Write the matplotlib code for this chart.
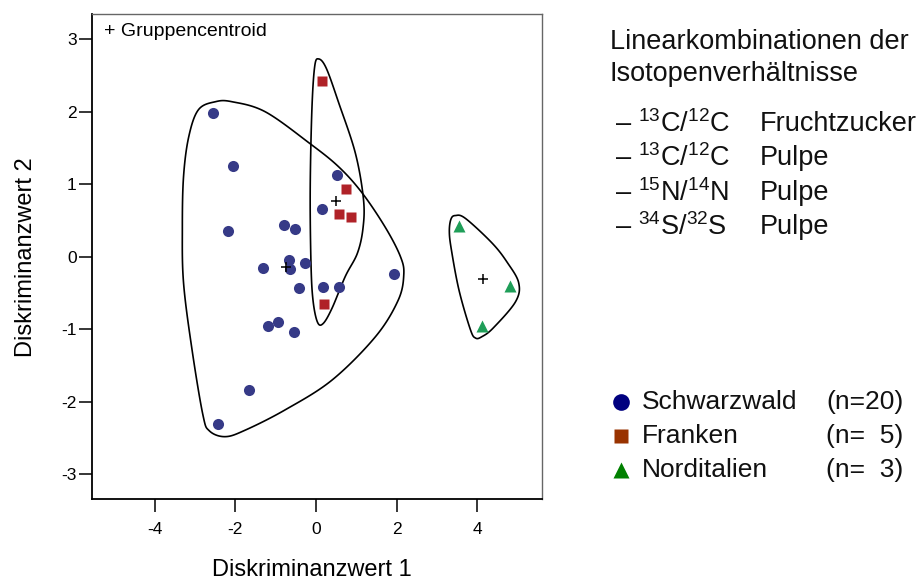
import numpy as np
import matplotlib
matplotlib.use("Agg")
import matplotlib.pyplot as plt
from matplotlib.lines import Line2D
from matplotlib.patches import Polygon

plt.rcParams["font.family"] = ["Liberation Sans", "DejaVu Sans"]
plt.rcParams["mathtext.fontset"] = "custom"
plt.rcParams["mathtext.rm"] = "Liberation Sans"
plt.rcParams["mathtext.it"] = "Liberation Sans:italic"
plt.rcParams["axes.unicode_minus"] = False

# Discriminant scores per origin group
schwarzwald_x = [-2.55, -2.05, 0.52, 0.16, -0.80, -0.52, -2.19,
                 -0.67, -0.28, -1.32, -0.63, 1.94, -0.42, 0.18, 0.58,
                 -0.95, -1.19, -0.55, -1.65, -2.42]
schwarzwald_y = [1.99, 1.26, 1.13, 0.66, 0.44, 0.39, 0.35,
                 -0.04, -0.09, -0.16, -0.17, -0.23, -0.43, -0.42, -0.41,
                 -0.90, -0.95, -1.04, -1.83, -2.30]
franken_x = [0.16, 0.74, 0.57, 0.86, 0.21]
franken_y = [2.42, 0.94, 0.59, 0.55, -0.65]
norditalien_x = [3.54, 4.82, 4.11]
norditalien_y = [0.43, -0.40, -0.95]

# Hand-drawn group outlines (control points, closed curves)
outline_schwarzwald_x = [-2.49, -2.08, -1.25, -0.14, 0.57, 1.15, 1.73, 2.10, 2.18,
                         2.04, 1.48, 0.40, -0.76, -1.75, -2.25, -2.64, -2.80, -3.07,
                         -3.28, -3.31, -3.28, -3.15, -2.91]
outline_schwarzwald_y = [2.14, 2.14, 2.00, 1.56, 1.24, 0.88, 0.40, 0.00, -0.25,
                         -0.60, -1.10, -1.70, -2.11, -2.39, -2.48, -2.40, -2.18, -1.28,
                         -0.36, 0.40, 1.11, 1.66, 2.03]
outline_franken_x = [0.07, 0.26, 0.57, 0.98, 1.18, 1.17, 1.03, 0.73, 0.40, 0.18,
                     0.04, -0.07, -0.12, -0.14, -0.10, -0.03]
outline_franken_y = [2.73, 2.60, 2.12, 1.43, 0.80, 0.40, 0.05, -0.27, -0.71, -0.92,
                     -0.90, -0.60, -0.10, 0.90, 2.00, 2.62]
outline_norditalien_x = [3.46, 3.71, 4.37, 4.75, 5.03, 4.95, 4.40, 4.12, 3.96, 3.83,
                         3.55, 3.36, 3.31, 3.35]
outline_norditalien_y = [0.57, 0.53, 0.19, -0.08, -0.36, -0.62, -0.98, -1.10, -1.12,
                         -1.00, -0.46, 0.10, 0.35, 0.52]

x_ticks = [-4, -2, 0, 2, 4]
y_ticks = [-3, -2, -1, 0, 1, 2, 3]

legend_labels = ["Schwarzwald", "Franken", "Norditalien"]
legend_counts = ["(n=20)", "(n=  5)", "(n=  3)"]
isotopes = [r"$^{13}$C/$^{12}$C", r"$^{13}$C/$^{12}$C", r"$^{15}$N/$^{14}$N", r"$^{34}$S/$^{32}$S"]
fractions = ["Fruchtzucker", "Pulpe", "Pulpe", "Pulpe"]


def closed_spline(xs, ys, n=40):
    """Closed Catmull-Rom curve through the control points."""
    P = np.column_stack([xs, ys]).astype(float)
    N = len(P)
    t = np.linspace(0, 1, n, endpoint=False)[:, None]
    segs = []
    for i in range(N):
        p0, p1, p2, p3 = P[i - 1], P[i], P[(i + 1) % N], P[(i + 2) % N]
        segs.append(0.5 * (2 * p1 + (-p0 + p2) * t
                           + (2 * p0 - 5 * p1 + 4 * p2 - p3) * t ** 2
                           + (-p0 + 3 * p1 - 3 * p2 + p3) * t ** 3))
    return np.vstack(segs)


W, H = 920, 582
fig = plt.figure(figsize=(W / 100, H / 100), dpi=100)
ax = fig.add_axes([92 / W, 1 - 499 / H, (541.7 - 92) / W, (499 - 14) / H])

c_blue, c_red, c_green = "#363a87", "#b02228", "#1f9e58"

for ox, oy in [(outline_schwarzwald_x, outline_schwarzwald_y),
               (outline_franken_x, outline_franken_y),
               (outline_norditalien_x, outline_norditalien_y)]:
    ax.add_patch(Polygon(closed_spline(ox, oy), closed=True, fill=False,
                         edgecolor="black", lw=1.2, joinstyle="round", zorder=2))

ax.plot(schwarzwald_x, schwarzwald_y, "o", ms=8, color=c_blue, mec="none", zorder=3)
ax.plot(franken_x, franken_y, "s", ms=7.6, color=c_red, mec="none", zorder=3)
ax.plot(norditalien_x, norditalien_y, "^", ms=8, color=c_green, mec="none", zorder=3)

# group centroids
for gx, gy in [(schwarzwald_x, schwarzwald_y), (franken_x, franken_y),
               (norditalien_x, norditalien_y)]:
    ax.plot(np.mean(gx), np.mean(gy), "+", ms=7, mew=1.1, color="black", zorder=4)

ax.set_xlim(-5.55, 5.6)
ax.set_ylim(-3.34, 3.35)
ax.set_xticks(x_ticks)
ax.set_yticks(y_ticks)
ax.tick_params(direction="out", length=9.4, width=1.1, labelsize=12.5, color="black")
ax.tick_params(axis="x", pad=7)
ax.tick_params(axis="y", pad=1.5)
for side in ["left", "bottom"]:
    ax.spines[side].set_linewidth(1.3)
    ax.spines[side].set_color("black")
for side in ["top", "right"]:
    ax.spines[side].set_linewidth(1.0)
    ax.spines[side].set_color("#666666")

ax.set_xlabel("Diskriminanzwert 1", fontsize=17, va="center")
ax.xaxis.set_label_coords((312 - 92) / 449.7, -(570 - 499) / 485)
ax.set_ylabel("Diskriminanzwert 2", fontsize=17, va="center")
ax.yaxis.set_label_coords((26 - 92) / 449.7, (499 - 257) / 485)

ax.text(0.027, 0.963, "+ Gruppencentroid", transform=ax.transAxes,
        fontsize=14, ha="left", va="center")


def ftext(x, y, s, **kw):
    fig.text(x / W, 1 - y / H, s, **kw)


ftext(610, 42, "Linearkombinationen der", fontsize=19.5, va="center", color="#111111")
ftext(610, 74, "Isotopenverhältnisse", fontsize=19.5, va="center", color="#111111")
for i, (iso, frac) in enumerate(zip(isotopes, fractions)):
    y = 124 + i * 34.5
    ftext(616, y, "–", fontsize=19.5, va="center", color="#111111")
    ftext(638, y, iso, fontsize=19.5, va="center", color="#111111")
    ftext(760, y, frac, fontsize=19.5, va="center", color="#111111")

leg_colors = ["#00007f", "#993300", "#008000"]
leg_markers = ["o", "s", "^"]
leg_sizes = [12, 9.5, 12]
for i, (lab, cnt) in enumerate(zip(legend_labels, legend_counts)):
    y = 402 + i * 34
    fig.add_artist(Line2D([621 / W], [1 - y / H], marker=leg_markers[i], ms=leg_sizes[i],
                          color=leg_colors[i], mec="none", transform=fig.transFigure))
    ftext(642, y, lab, fontsize=19, va="center", color="#111111")
    ftext(826, y, cnt, fontsize=19, va="center", color="#111111")

fig.savefig("out.png", dpi=100)
